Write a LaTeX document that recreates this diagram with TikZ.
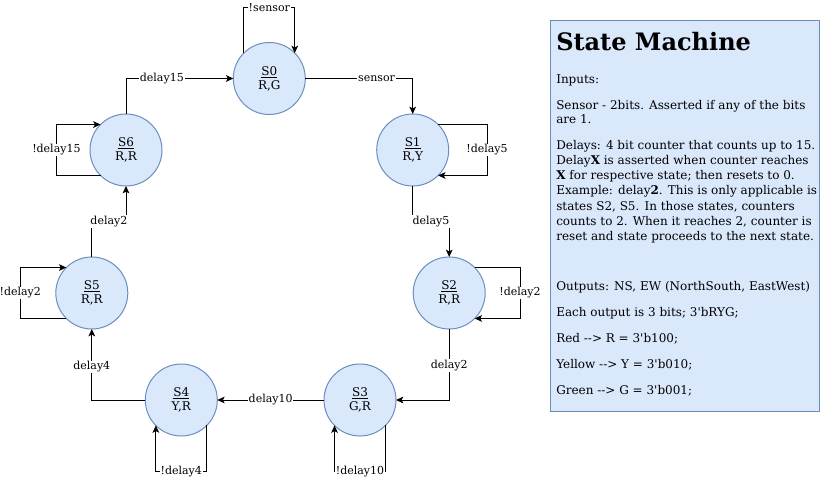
\documentclass[tikz,border=0pt]{standalone}
\usepackage{fontspec}
\setmainfont{DejaVu Serif}[Ligatures=TeXOff]
\usetikzlibrary{arrows.meta,calc}
\definecolor{stfill}{HTML}{DAE8FC}
\definecolor{stdraw}{HTML}{6C8EBF}
\begin{document}
\begin{tikzpicture}[x=0.75pt,y=-0.75pt,
  state/.style={circle,draw=stdraw,fill=stfill,minimum size=54pt,inner sep=0pt,outer sep=0pt,align=center,font=\fontsize{9}{10.5}\selectfont,line width=0.75pt},
  arr/.style={draw=black,line width=0.75pt,-{Stealth[length=5.5pt,width=5pt,inset=1.3pt]}},
  lbl/.style={fill=white,inner sep=0.6pt,font=\fontsize{8.25}{9.9}\selectfont},
  body/.style={anchor=base west,inner sep=0pt,font=\fontsize{9}{10.8}\selectfont},
  infobox/.style={draw=stdraw,fill=stfill,line width=0.75pt,inner sep=0pt,outer sep=0pt,anchor=north west}]

\useasboundingbox (0,0) rectangle (821,481);

% states
\node[state] (s0) at (269.3,78.5) {\underline{S0}\\R,G};
\node[state] (s1) at (412.7,150) {\underline{S1}\\R,Y};
\node[state] (s2) at (449.2,293) {\underline{S2}\\R,R};
\node[state] (s3) at (360,400) {\underline{S3}\\G,R};
\node[state] (s4) at (181.3,400) {\underline{S4}\\Y,R};
\node[state] (s5) at (91.8,293) {\underline{S5}\\R,R};
\node[state] (s6) at (126,150) {\underline{S6}\\R,R};

% helper coordinates
\coordinate (s0lp) at (269.3,7.3);
\coordinate (s1lp) at (487,150);
\coordinate (s2lp) at (520,293);
\coordinate (s3lp) at (360,471.7);
\coordinate (s4lp) at (181.3,471.7);
\coordinate (s5lp) at (20.3,293);
\coordinate (s6lp) at (56.4,150);
\coordinate (mid) at (0,221.6);

% transitions
\draw[arr] (s6.north) |- node[lbl,pos=0.667]{delay15} (s0.west);
\draw[arr] (s0.east) -| node[lbl,pos=0.332]{sensor} (s1.north);
\draw[arr] (s1.south) -- (s1.south |- mid) -- node[lbl]{delay5} (s2.north |- mid) -- (s2.north);
\draw[arr] (s2.south) |- node[lbl,pos=0.256]{delay2} (s3.east);
\draw[arr] (s3.west) -- node[lbl]{delay10} (s4.east);
\draw[arr] (s4.west) -| node[lbl,pos=0.734]{delay4} (s5.south);
\draw[arr] (s5.north) -- (s5.north |- mid) -- node[lbl]{delay2} (s6.south |- mid) -- (s6.south);

% self loops
\draw[arr] (s0.135) -- (s0.135 |- s0lp) -- node[lbl]{!sensor} (s0.45 |- s0lp) -- (s0.45);
\draw[arr] (s1.45) -- (s1.45 -| s1lp) -- node[lbl]{!delay5} (s1.-45 -| s1lp) -- (s1.-45);
\draw[arr] (s2.45) -- (s2.45 -| s2lp) -- node[lbl]{!delay2} (s2.-45 -| s2lp) -- (s2.-45);
\draw[arr] (s3.-45) -- (s3.-45 |- s3lp) -- node[lbl]{!delay10} (s3.-135 |- s3lp) -- (s3.-135);
\draw[arr] (s4.-45) -- (s4.-45 |- s4lp) -- node[lbl]{!delay4} (s4.-135 |- s4lp) -- (s4.-135);
\draw[arr] (s5.-135) -- (s5.-135 -| s5lp) -- node[lbl]{!delay2} (s5.135 -| s5lp) -- (s5.135);
\draw[arr] (s6.-135) -- (s6.-135 -| s6lp) -- node[lbl]{!delay15} (s6.135 -| s6lp) -- (s6.135);

% info box
\node[infobox,minimum width=202pt,minimum height=292.5pt] (info) at (550.5,21) {};
\node[anchor=base west,inner sep=0pt,font=\fontsize{18}{21.6}\selectfont\bfseries] (title) at (556,50.5) {State Machine};
\node[body] (t1) at (556,83.5) {Inputs:};
\node[body] (t2) at (556,109.5) {Sensor - 2bits. Asserted if any of the bits};
\node[body] (t3) at (556,124) {are 1.};
\node[body] (t4) at (556,150) {Delays: 4 bit counter that counts up to 15.};
\node[body] (t5) at (556,165) {Delay\textbf{X} is asserted when counter reaches};
\node[body] (t6) at (556,180) {\textbf{X} for respective state; then resets to 0.};
\node[body] (t7) at (556,195) {Example: delay\textbf{2}. This is only applicable is};
\node[body] (t8) at (556,210) {states S2, S5. In those states, counters};
\node[body] (t9) at (556,225) {counts to 2. When it reaches 2, counter is};
\node[body] (t10) at (556,240) {reset and state proceeds to the next state.};
\node[body] (t11) at (556,290) {Outputs: NS, EW (NorthSouth, EastWest)};
\node[body] (t12) at (556,316) {Each output is 3 bits; 3'bRYG;};
\node[body] (t13) at (556,342) {Red -{}-> R = 3'b100;};
\node[body] (t14) at (556,368) {Yellow -{}-> Y = 3'b010;};
\node[body] (t15) at (556,394) {Green -{}-> G = 3'b001;};
\end{tikzpicture}
\end{document}
